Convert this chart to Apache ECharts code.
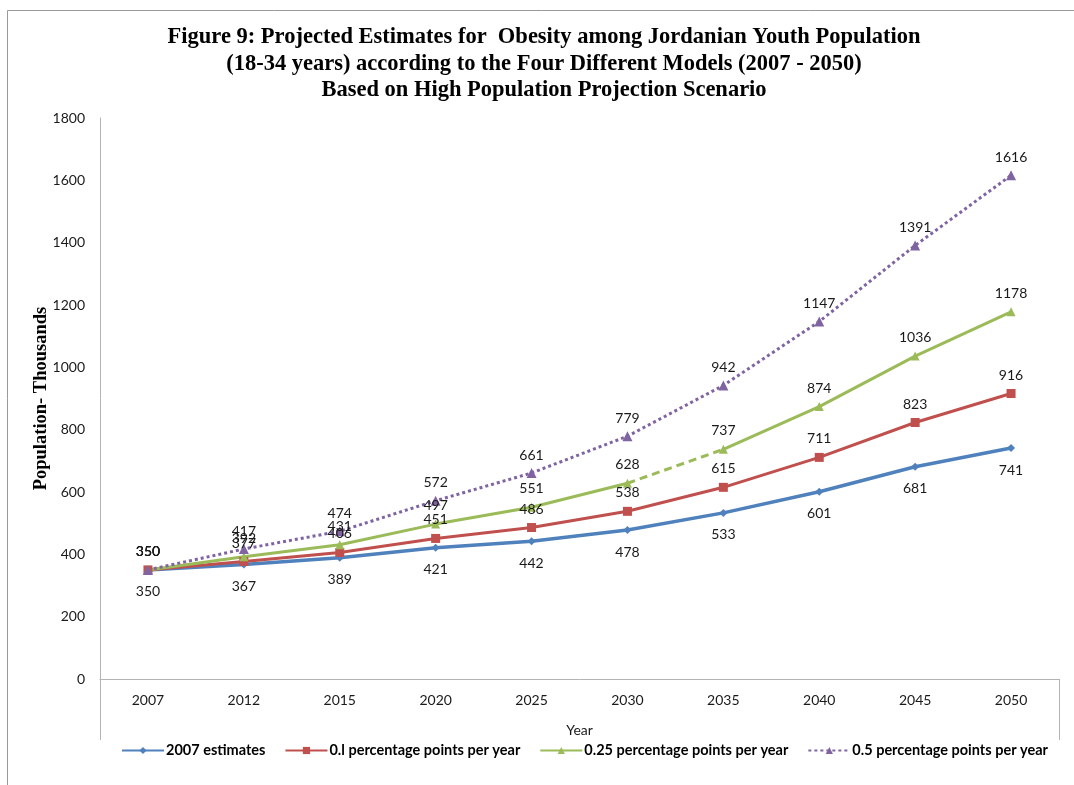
<!DOCTYPE html>
<html>
<head>
<meta charset="utf-8">
<script src="https://cdn.jsdelivr.net/npm/echarts@6/dist/echarts.min.js"></script>
<style>
  html, body { margin: 0; padding: 0; background: #fff; }
  #chart { width: 1074px; height: 785px; }
</style>
</head>
<body>
<div id="chart"></div>
<script>
// Years on the category axis
const years = ['2007', '2012', '2015', '2020', '2025', '2030', '2035', '2040', '2045', '2050'];

// Projected obese youth population (thousands) under each model
const estimates2007 = [350, 367, 389, 421, 442, 478, 533, 601, 681, 741];
const plus010 = [350, 377, 406, 451, 486, 538, 615, 711, 823, 916];
const plus025 = [350, 392, 431, 497, 551, 628, 737, 874, 1036, 1178];
const plus050 = [350, 417, 474, 572, 661, 779, 942, 1147, 1391, 1616];

const seriesNames = [
  '2007 estimates',
  '0.l percentage points per year',
  '0.25 percentage points per year',
  '0.5 percentage points per year'
];

const BLUE = '#4F81BD', RED = '#C0504D', GREEN = '#9BBB59', PURPLE = '#8064A2';
const labelFont = { fontFamily: 'Lato', fontSize: 14, color: '#1a1a1a' };

// keep values only inside [from, to], null elsewhere
function segment(arr, from, to) {
  return arr.map((v, i) => (i >= from && i <= to ? v : null));
}

const chart = echarts.init(document.getElementById('chart'), null, { renderer: 'canvas' });

const option = {
  backgroundColor: '#fff',
  animation: false,
  title: {
    text: 'Figure 9: Projected Estimates for  Obesity among Jordanian Youth Population\n(18-34 years) according to the Four Different Models (2007 - 2050)\nBased on High Population Projection Scenario',
    left: 539,
    textAlign: 'center',
    top: 19,
    textStyle: {
      fontFamily: 'Liberation Serif',
      fontWeight: 'bold',
      fontSize: 22.5,
      lineHeight: 26.5,
      color: '#000',
      align: 'center'
    }
  },
  legend: {
    top: 738,
    left: 116,
    itemWidth: 42,
    itemHeight: 9,
    itemGap: 19,
    data: seriesNames,
    textStyle: { fontFamily: 'Lato', fontWeight: 'bold', fontSize: 14.5, color: '#000', padding: [0, 0, 0, -3] }
  },
  grid: { left: 100, right: 15, top: 118, bottom: 106 },
  xAxis: {
    type: 'category',
    data: years,
    boundaryGap: true,
    name: 'Year',
    nameLocation: 'middle',
    nameGap: 44,
    nameTextStyle: { fontFamily: 'Lato', fontSize: 14, color: '#1a1a1a' },
    axisLine: { lineStyle: { color: '#b3b3b3', width: 1 } },
    axisTick: { show: false },
    axisLabel: { fontFamily: 'Lato', fontSize: 14, color: '#1a1a1a', margin: 14 },
    splitLine: { show: false }
  },
  yAxis: {
    type: 'value',
    min: 0,
    max: 1800,
    interval: 200,
    name: 'Population- Thousands',
    nameLocation: 'middle',
    nameGap: 49,
    nameMoveOverlap: false,
    nameRotate: 90,
    nameTextStyle: { fontFamily: 'Liberation Serif', fontWeight: 'bold', fontSize: 18.5, color: '#000' },
    axisLine: { show: true, lineStyle: { color: '#b3b3b3', width: 1 } },
    axisTick: { show: false },
    axisLabel: { fontFamily: 'Lato', fontSize: 14, color: '#1a1a1a', margin: 15, formatter: v => String(v) },
    splitLine: { show: false }
  },
  graphic: [
    // outer frame
    { type: 'rect', shape: { x: 7.5, y: 10.5, width: 1100, height: 800 }, style: { fill: null, stroke: '#9a9a9a', lineWidth: 1 }, silent: true },
    // category-axis side borders
    { type: 'line', shape: { x1: 100.5, y1: 679, x2: 100.5, y2: 740 }, style: { stroke: '#b3b3b3', lineWidth: 1 }, silent: true },
    { type: 'line', shape: { x1: 1059.5, y1: 679, x2: 1059.5, y2: 740 }, style: { stroke: '#b3b3b3', lineWidth: 1 }, silent: true }
  ],
  series: [
    {
      name: seriesNames[0],
      type: 'line',
      data: estimates2007,
      color: BLUE,
      symbol: 'diamond',
      symbolSize: 8,
      lineStyle: { width: 3.5, color: BLUE },
      itemStyle: { color: BLUE },
      label: { show: true, position: 'bottom', distance: 11, ...labelFont }
    },
    {
      name: seriesNames[1],
      type: 'line',
      data: plus010,
      color: RED,
      symbol: 'rect',
      symbolSize: 9,
      lineStyle: { width: 3, color: RED },
      itemStyle: { color: RED },
      label: { show: true, position: 'top', distance: 7, ...labelFont }
    },
    {
      name: seriesNames[2],
      type: 'line',
      data: segment(plus025, 0, 5),
      color: GREEN,
      symbol: 'triangle',
      symbolSize: 9,
      lineStyle: { width: 3, color: GREEN },
      itemStyle: { color: GREEN },
      label: { show: true, position: 'top', distance: 7, ...labelFont }
    },
    {
      // 2030-2035 stretch of the 0.25 model drawn dashed
      name: seriesNames[2],
      type: 'line',
      data: segment(plus025, 5, 6),
      color: GREEN,
      showSymbol: false,
      symbol: 'none',
      lineStyle: { width: 3, color: GREEN, type: [8, 5] },
      label: { show: false }
    },
    {
      name: seriesNames[2],
      type: 'line',
      data: segment(plus025, 6, 9),
      color: GREEN,
      symbol: 'triangle',
      symbolSize: 9,
      lineStyle: { width: 3, color: GREEN },
      itemStyle: { color: GREEN },
      label: { show: true, position: 'top', distance: 7, ...labelFont }
    },
    {
      name: seriesNames[3],
      type: 'line',
      data: plus050,
      color: PURPLE,
      symbol: 'triangle',
      symbolSize: 10,
      lineStyle: { width: 3, color: PURPLE, type: [3, 3] },
      itemStyle: { color: PURPLE },
      label: { show: true, position: 'top', distance: 6, ...labelFont }
    }
  ]
};

chart.setOption(option);
</script>
</body>
</html>
